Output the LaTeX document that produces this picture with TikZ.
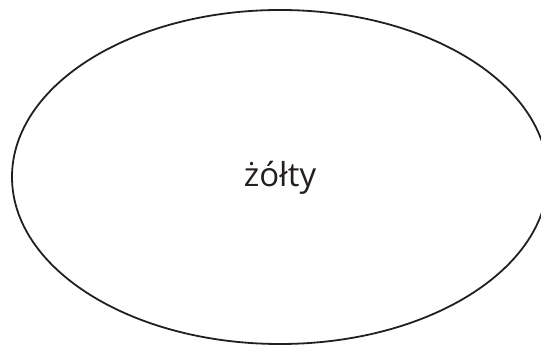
\documentclass[tikz,border=0pt]{standalone}
\usepackage{fontspec}
\setmainfont{Open Sans}
\usetikzlibrary{shapes.geometric}
\definecolor{ink}{HTML}{231F20}
\tikzset{
  blob/.style={ellipse, draw=ink, line width=1.8pt, minimum width=536pt, minimum height=334pt, inner sep=0pt},
  lbl/.style={text=ink, font=\fontsize{33}{38}\selectfont}
}
\begin{document}
\begin{tikzpicture}[x=1pt,y=1pt]
\useasboundingbox (0,0) rectangle (541,345);
\node[blob] (e) at (280,168) {};
\node[lbl, anchor=base] (t) at (280,158) {żółty};
\end{tikzpicture}
\end{document}
